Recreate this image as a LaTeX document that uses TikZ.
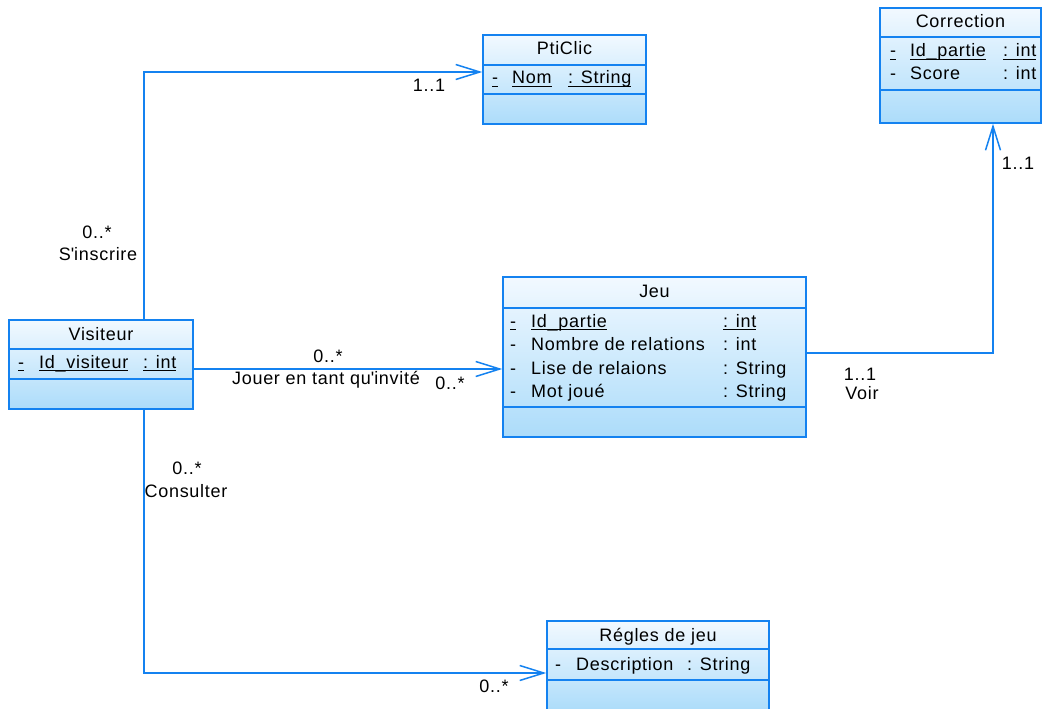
\documentclass[tikz,border=0pt]{standalone}
\usepackage{fontspec}
\setmainfont{Liberation Sans}[LetterSpace=4]
\usetikzlibrary{arrows.meta}
\definecolor{umlblue}{RGB}{20,130,240}
\definecolor{filltop}{RGB}{242,249,255}
\definecolor{fillbot}{RGB}{172,220,250}
\newcommand{\uln}[1]{\setbox0\hbox{#1}\rlap{\rule[-3pt]{\wd0}{1pt}}\box0}
\begin{document}
\begin{tikzpicture}[x=1pt,y=-1pt,font=\fontsize{18}{22}\selectfont,
  classbox/.style={draw=umlblue, line width=1.5pt, top color=filltop, bottom color=fillbot, inner sep=0pt},
  sepline/.style={umlblue, line width=1.5pt},
  assoc/.style={umlblue, line width=1.5pt, -{Straight Barb[length=24pt,width=15pt]}},
  txt/.style={anchor=base west, inner sep=0pt},
  ttl/.style={anchor=base, inner sep=0pt},
  lbl/.style={inner sep=0pt}]
\useasboundingbox (0,0) rectangle (1042,709);
% PtiClic
\node[classbox, minimum width=163pt, minimum height=89pt] (pticlic) at (564.5,79.5) {};
\draw[sepline] (pticlic.west |- 0,65) -- (pticlic.east |- 0,65);
\draw[sepline] (pticlic.west |- 0,94) -- (pticlic.east |- 0,94);
\node[ttl] (pt-t) at (564.5,55) {PtiClic};
\node[txt] (pt-a1) at (492,84) {\uln{-}};
\node[txt] (pt-a2) at (512,84) {\uln{Nom}};
\node[txt] (pt-a3) at (568,84) {\uln{: String}};
% Correction
\node[classbox, minimum width=161pt, minimum height=115pt] (corr) at (960.5,65.5) {};
\draw[sepline] (corr.west |- 0,37) -- (corr.east |- 0,37);
\draw[sepline] (corr.west |- 0,90) -- (corr.east |- 0,90);
\node[ttl] (co-t) at (960.5,28) {Correction};
\node[txt] (co-a1) at (890,57) {\uln{-}};
\node[txt] (co-a2) at (910,57) {\uln{Id\_partie}};
\node[txt] (co-a3) at (1003,57) {\uln{: int}};
\node[txt] (co-b1) at (890,80) {-};
\node[txt] (co-b2) at (910,80) {Score};
\node[txt] (co-b3) at (1003,80) {: int};
% Visiteur
\node[classbox, minimum width=184pt, minimum height=89pt] (vis) at (101,364.5) {};
\draw[sepline] (vis.west |- 0,349) -- (vis.east |- 0,349);
\draw[sepline] (vis.west |- 0,379) -- (vis.east |- 0,379);
\node[ttl] (vi-t) at (101,340) {Visiteur};
\node[txt] (vi-a1) at (18,368) {\uln{-}};
\node[txt] (vi-a2) at (39,368) {\uln{Id\_visiteur}};
\node[txt] (vi-a3) at (143,368) {\uln{: int}};
% Jeu
\node[classbox, minimum width=303pt, minimum height=160pt] (jeu) at (654.5,357) {};
\draw[sepline] (jeu.west |- 0,308) -- (jeu.east |- 0,308);
\draw[sepline] (jeu.west |- 0,407) -- (jeu.east |- 0,407);
\node[ttl] (je-t) at (654.5,297) {Jeu};
\node[txt] (je-a1) at (510,327) {\uln{-}};
\node[txt] (je-a2) at (531,327) {\uln{Id\_partie}};
\node[txt] (je-a3) at (723,327) {\uln{: int}};
\node[txt] (je-b1) at (510,350) {-};
\node[txt] (je-b2) at (531,350) {Nombre de relations};
\node[txt] (je-b3) at (723,350) {: int};
\node[txt] (je-c1) at (510,374) {-};
\node[txt] (je-c2) at (531,374) {Lise de relaions};
\node[txt] (je-c3) at (723,374) {: String};
\node[txt] (je-d1) at (510,397) {-};
\node[txt] (je-d2) at (531,397) {Mot joué};
\node[txt] (je-d3) at (723,397) {: String};
% Regles
\node[classbox, minimum width=222pt, minimum height=90pt] (regles) at (658,666) {};
\draw[sepline] (regles.west |- 0,649) -- (regles.east |- 0,649);
\draw[sepline] (regles.west |- 0,680) -- (regles.east |- 0,680);
\node[ttl] (re-t) at (658,641) {Régles de jeu};
\node[txt] (re-a1) at (555,670) {-};
\node[txt] (re-a2) at (576,670) {Description};
\node[txt] (re-a3) at (687,670) {: String};
% connectors
\draw[assoc] ([xshift=43pt]vis.north) |- ([yshift=7.5pt]pticlic.west);
\draw[assoc] ([yshift=-4.5pt]vis.east) -- ([yshift=-12pt]jeu.west);
\draw[assoc] ([yshift=4pt]jeu.east) -| ([xshift=32.5pt]corr.south);
\draw[assoc] ([xshift=43pt]vis.south) |- ([yshift=-7pt]regles.west);
% labels
\node[lbl] (l1) at (429,85) {1..1};
\node[lbl] (l2) at (97,232) {0..*};
\node[lbl] (l3) at (98,254) {S\textquotesingle inscrire};
\node[lbl] (l4) at (328,356) {0..*};
\node[lbl] (l5) at (326,380) {Jouer en tant qu\textquotesingle invité};
\node[lbl] (l6) at (450,383) {0..*};
\node[lbl] (l7) at (1018,163) {1..1};
\node[lbl] (l8) at (860,374) {1..1};
\node[lbl] (l9) at (862,393) {Voir};
\node[lbl] (l10) at (187,468) {0..*};
\node[lbl] (l11) at (186,491) {Consulter};
\node[lbl] (l12) at (494,686) {0..*};
\end{tikzpicture}
\end{document}
